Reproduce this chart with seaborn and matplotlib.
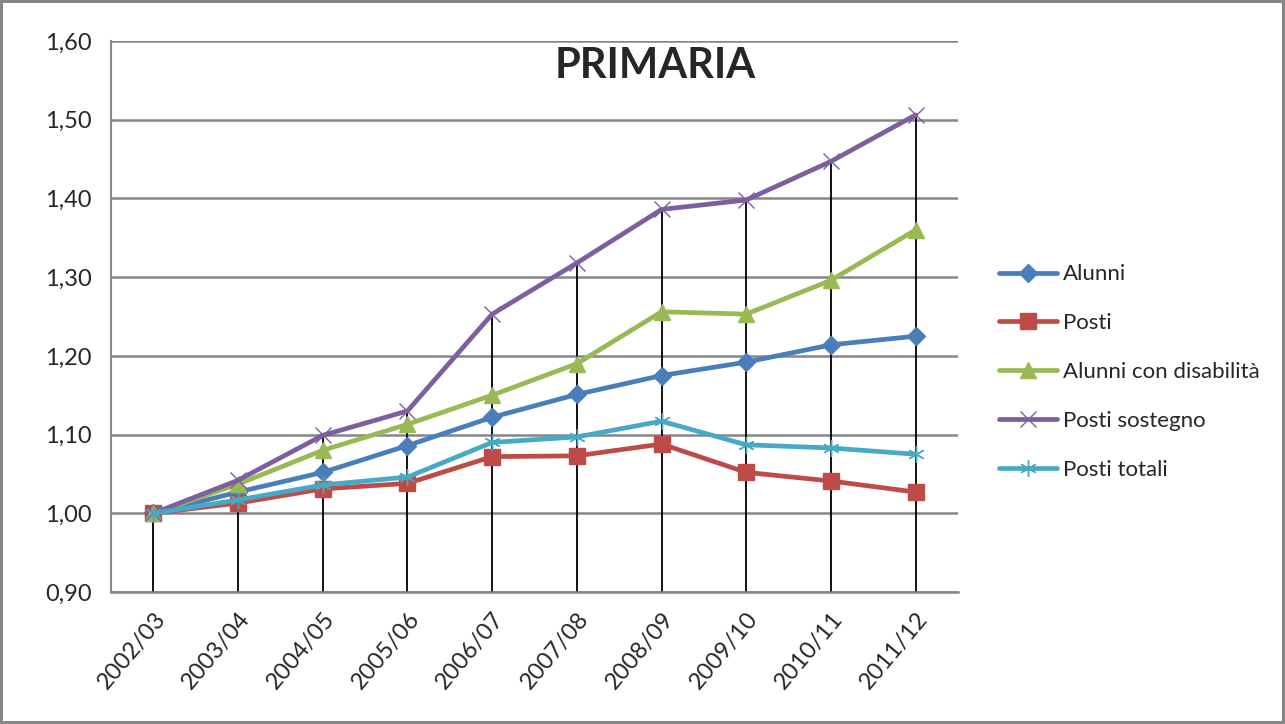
import numpy as np
import pandas as pd
import matplotlib
matplotlib.use("Agg")
import matplotlib.pyplot as plt
import seaborn as sns

# Data (indice, 2002/03 = 1)
anni = ["2002/03", "2003/04", "2004/05", "2005/06", "2006/07",
        "2007/08", "2008/09", "2009/10", "2010/11", "2011/12"]
alunni = [1.000, 1.027, 1.052, 1.086, 1.122, 1.151, 1.175, 1.192, 1.214, 1.225]
posti = [1.000, 1.013, 1.031, 1.038, 1.072, 1.073, 1.088, 1.052, 1.041, 1.027]
alunni_disab = [1.000, 1.037, 1.080, 1.113, 1.150, 1.190, 1.256, 1.253, 1.296, 1.360]
posti_sostegno = [1.000, 1.042, 1.099, 1.130, 1.253, 1.318, 1.386, 1.398, 1.447, 1.506]
posti_totali = [1.000, 1.017, 1.036, 1.046, 1.090, 1.097, 1.117, 1.087, 1.083, 1.075]

series = [
    ("Alunni", alunni, "#4A7EBB", "D", 9),
    ("Posti", posti, "#BE4B48", "s", 11),
    ("Alunni con disabilità", alunni_disab, "#98B954", "^", 11),
    ("Posti sostegno", posti_sostegno, "#7D5FA0", "x", 12),
    ("Posti totali", posti_totali, "#46AAC5", (6, 2, 0), 12),
]

sns.set_style("white")
plt.rcParams["font.family"] = ["Lato", "DejaVu Sans"]

fig = plt.figure(figsize=(12.85, 7.24), dpi=100)
ax = fig.add_axes([0.0864, 0.1823, 0.6591, 0.7611])

x = np.arange(len(anni))

# drop lines from the highest point down to the axis
top = np.max(np.array([s[1] for s in series]), axis=0)
ax.vlines(x, 0.90, top, color="black", linewidth=1.3, zorder=1)

for name, vals, col, mk, ms in series:
    sns.lineplot(x=x, y=vals, ax=ax, color=col, linewidth=3.4, marker=mk,
                 markersize=ms, markeredgecolor=col, markeredgewidth=1.0,
                 label=name, zorder=3, legend=False)

ax.set_xlim(-0.5, len(anni) - 0.5)
ax.set_ylim(0.90, 1.60)
yt = np.arange(0.90, 1.601, 0.10)
ax.set_yticks(yt)
ax.set_yticklabels([f"{v:.2f}".replace(".", ",") for v in yt], fontsize=17)
ax.set_xticks(x)
ax.set_xticklabels(anni, rotation=50, ha="right", rotation_mode="anchor", fontsize=17)
ax.tick_params(axis="y", length=8, width=1.5, color="#868686", pad=6)
ax.tick_params(axis="x", length=0, pad=12)
ax.grid(axis="y", color="#868686", linewidth=1.8)
ax.set_axisbelow(True)
for side in ["top", "right"]:
    ax.spines[side].set_visible(False)
ax.spines["left"].set_color("#868686")
ax.spines["left"].set_linewidth(1.5)
ax.spines["bottom"].set_color("#868686")
ax.spines["bottom"].set_linewidth(1.8)
ax.set_xlabel("")
ax.set_ylabel("")

ax.text(0.643, 0.955, "PRIMARIA", transform=ax.transAxes, ha="center", va="center",
        fontsize=30, fontweight="bold")

handles, labels = ax.get_legend_handles_labels()
fig.legend(handles, labels, loc="center left", bbox_to_anchor=(0.762, 0.486),
           frameon=False, fontsize=16, labelspacing=1.3, handlelength=2.6,
           handletextpad=0.25)

# chart border
fig.patch.set_edgecolor("#868686")
fig.patch.set_linewidth(3)

fig.savefig("out.png", dpi=100, edgecolor=fig.get_edgecolor())
